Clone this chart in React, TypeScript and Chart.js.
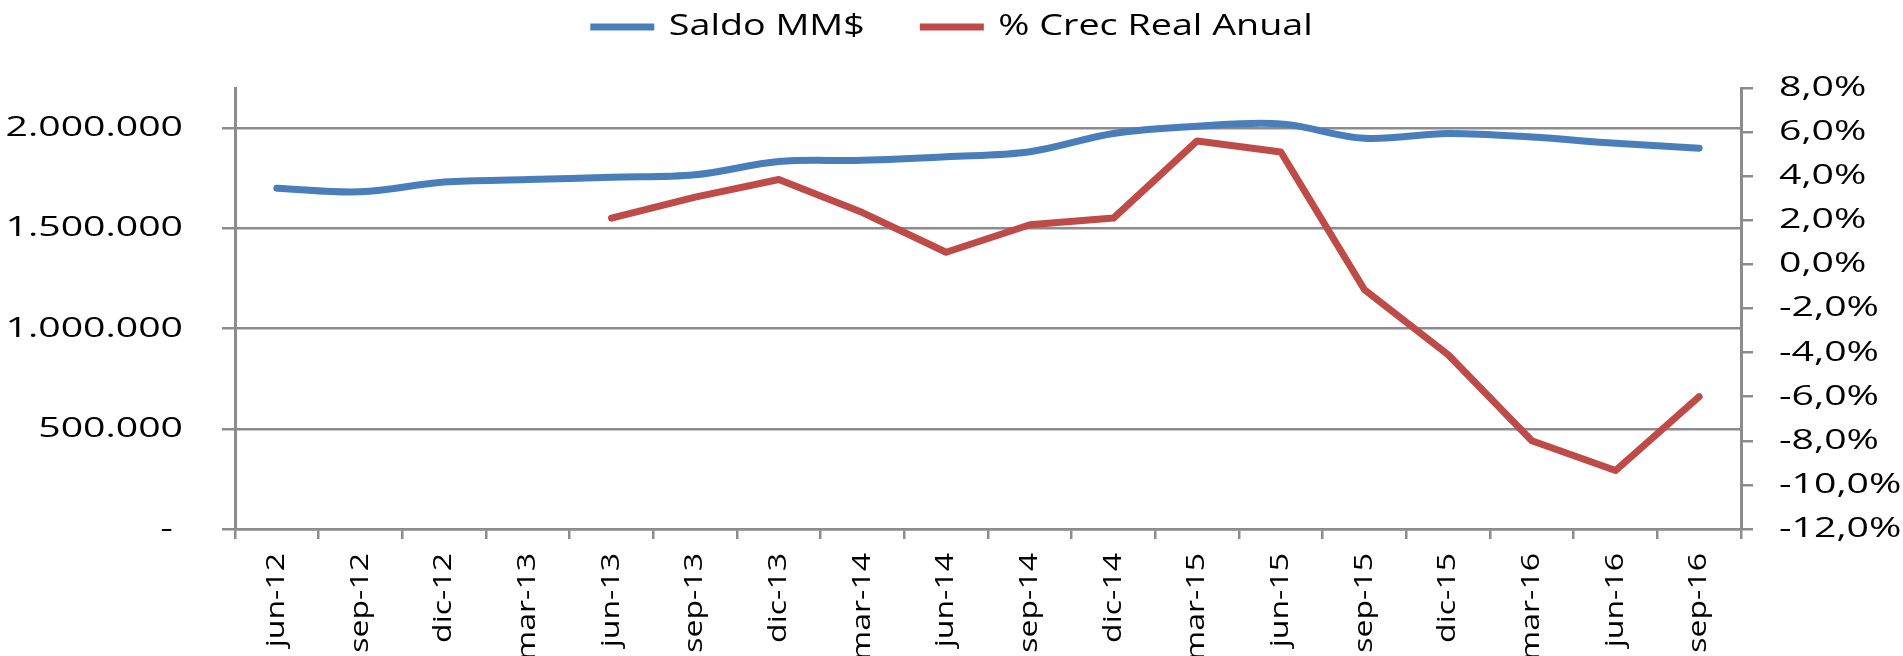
import React, { useEffect, useRef } from 'react';
import { Chart, registerables } from 'chart.js';

Chart.register(...registerables);

// ---- data ----
const categories = [
  'jun-12', 'sep-12', 'dic-12', 'mar-13', 'jun-13', 'sep-13', 'dic-13', 'mar-14', 'jun-14',
  'sep-14', 'dic-14', 'mar-15', 'jun-15', 'sep-15', 'dic-15', 'mar-16', 'jun-16', 'sep-16',
];
const saldo = [
  1700000, 1682000, 1731000, 1743000, 1755000, 1767000, 1833000, 1839000, 1857000,
  1882000, 1973000, 2009000, 2021000, 1949000, 1973000, 1955000, 1924000, 1900000,
];
const crecimiento = [
  null, null, null, null, 2.1, 3.05, 3.85, 2.35, 0.55,
  1.8, 2.1, 5.6, 5.1, -1.15, -4.1, -8.0, -9.35, -6.0,
];
const seriesNames = ['Saldo MM$', '% Crec Real Anual'];
const leftTickValues = [0, 500000, 1000000, 1500000, 2000000];
const leftTickLabels = ['-', '500.000', '1.000.000', '1.500.000', '2.000.000'];
const rightTickValues = [-12, -10, -8, -6, -4, -2, 0, 2, 4, 6, 8];
const rightTickLabels = ['-12,0%', '-10,0%', '-8,0%', '-6,0%', '-4,0%', '-2,0%', '0,0%', '2,0%', '4,0%', '6,0%', '8,0%'];

// ---- style / layout ----
const W = 1903;
const H = 656;
const PLOT_LEFT = 235;
const PLOT_RIGHT = 1741;
const PLOT_TOP = 88;
const PLOT_BOTTOM = 529;
const LEGEND_CENTER_Y = 27;
const LEGEND_FONT = 29;
const Y_FONT = 28;
const X_FONT = 25;
const LEGEND_GAP = 55;
// horizontal stretch of glyphs, per font size (the original uses a wide face)
const STRETCH_BY_SIZE: Record<number, number> = { 29: 1.3, 28: 1.4, 25: 1.28 };
const AXIS_COLOR = '#8c8c8c';
const BLUE = '#4a7ebb';
const RED = '#be4b48';
const LINE_W = 7;
const FONT = "'Open Sans', 'Noto Sans', sans-serif";

function stretchOf(ctx: CanvasRenderingContext2D) {
  const m = /(\d+(?:\.\d+)?)px/.exec(ctx.font);
  const size = m ? Math.round(parseFloat(m[1])) : 0;
  return STRETCH_BY_SIZE[size] || 1.3;
}

function stretchText(ctx: CanvasRenderingContext2D) {
  const c = ctx as any;
  if (c.__stretched) return;
  c.__stretched = true;
  const fill = ctx.fillText.bind(ctx);
  const measure = ctx.measureText.bind(ctx);
  c.fillText = (text: string, x: number, y: number, maxWidth?: number) => {
    const s = stretchOf(ctx);
    ctx.save();
    ctx.translate(x, y);
    ctx.scale(s, 1);
    if (maxWidth === undefined || maxWidth === null) fill(text, 0, 0);
    else fill(text, 0, 0, maxWidth / s);
    ctx.restore();
  };
  c.measureText = (text: string) => {
    const s = stretchOf(ctx);
    const m = measure(text);
    return {
      width: m.width * s,
      actualBoundingBoxAscent: m.actualBoundingBoxAscent,
      actualBoundingBoxDescent: m.actualBoundingBoxDescent,
      actualBoundingBoxLeft: m.actualBoundingBoxLeft * s,
      actualBoundingBoxRight: m.actualBoundingBoxRight * s,
      fontBoundingBoxAscent: m.fontBoundingBoxAscent,
      fontBoundingBoxDescent: m.fontBoundingBoxDescent,
    };
  };
}

const legendPlacement = {
  id: 'legendPlacement',
  beforeLayout(chart: any) {
    const lg = chart.legend;
    if (lg && !lg.__fitPatched) {
      const fit = lg.fit.bind(lg);
      lg.fit = () => {
        fit();
        lg.height = PLOT_TOP;
      };
      lg.__fitPatched = true;
    }
  },
  afterLayout(chart: any) {
    const lg = chart.legend;
    if (lg) {
      lg.top = LEGEND_CENTER_Y - LEGEND_GAP - LEGEND_FONT / 2;
    }
  },
};

export default function App() {
  const canvasRef = useRef<HTMLCanvasElement | null>(null);

  useEffect(() => {
    const canvas = canvasRef.current;
    if (!canvas) return;
    const ctx = canvas.getContext('2d');
    if (ctx) stretchText(ctx);

    const chart = new Chart(canvas, {
      type: 'line',
      data: {
        labels: categories,
        datasets: [
          {
            label: seriesNames[0],
            data: saldo,
            yAxisID: 'y',
            borderColor: BLUE,
            backgroundColor: BLUE,
            borderWidth: LINE_W,
            pointRadius: 0,
            pointHoverRadius: 0,
            tension: 0.35,
            borderCapStyle: 'round',
            borderJoinStyle: 'round',
            fill: false,
          },
          {
            label: seriesNames[1],
            data: crecimiento as any,
            yAxisID: 'y1',
            borderColor: RED,
            backgroundColor: RED,
            borderWidth: LINE_W,
            pointRadius: 0,
            pointHoverRadius: 0,
            tension: 0,
            borderCapStyle: 'round',
            borderJoinStyle: 'round',
            spanGaps: false,
            fill: false,
          },
        ],
      },
      options: {
        animation: false,
        responsive: true,
        maintainAspectRatio: false,
        layout: { padding: 0 },
        font: { family: FONT },
        plugins: {
          tooltip: { enabled: false },
          legend: {
            display: true,
            position: 'top',
            align: 'center',
            labels: {
              usePointStyle: true,
              pointStyle: 'line',
              pointStyleWidth: 64,
              padding: LEGEND_GAP,
              color: '#000',
              font: { family: FONT, size: LEGEND_FONT },
            },
          },
        },
        scales: {
          x: {
            type: 'category',
            offset: true,
            grid: {
              offset: true,
              drawOnChartArea: false,
              drawTicks: true,
              tickLength: 10,
              color: AXIS_COLOR,
              lineWidth: 2.5,
            },
            border: { display: true, color: AXIS_COLOR, width: 2.5 },
            ticks: {
              autoSkip: false,
              maxRotation: 90,
              minRotation: 90,
              padding: 14,
              color: '#000',
              font: { family: FONT, size: X_FONT },
            },
            afterFit: (s: any) => {
              s.height = H - PLOT_BOTTOM;
            },
          },
          y: {
            type: 'linear',
            position: 'left',
            min: 0,
            max: 2200000,
            afterBuildTicks: (s: any) => {
              s.ticks = leftTickValues.map((value) => ({ value }));
            },
            ticks: {
              padding: 39,
              color: '#000',
              font: { family: FONT, size: Y_FONT },
              callback: (v: any) => {
                const i = leftTickValues.indexOf(Number(v));
                const lbl = i >= 0 ? leftTickLabels[i] : String(v);
                return Number(v) === 0 ? lbl + ' ' : lbl;
              },
            },
            grid: {
              color: AXIS_COLOR,
              lineWidth: 2.5,
              tickLength: 13,
              drawTicks: true,
            },
            border: { display: true, color: AXIS_COLOR, width: 3 },
            afterFit: (s: any) => {
              s.width = PLOT_LEFT;
            },
          },
          y1: {
            type: 'linear',
            position: 'right',
            min: -12,
            max: 8,
            afterBuildTicks: (s: any) => {
              s.ticks = rightTickValues.map((value) => ({ value }));
            },
            ticks: {
              padding: 26,
              color: '#000',
              font: { family: FONT, size: Y_FONT },
              callback: (v: any) => {
                const i = rightTickValues.indexOf(Number(v));
                return i >= 0 ? rightTickLabels[i] : String(v);
              },
            },
            grid: {
              drawOnChartArea: false,
              drawTicks: true,
              tickLength: 12,
              color: AXIS_COLOR,
              lineWidth: 2.5,
            },
            border: { display: true, color: AXIS_COLOR, width: 3 },
            afterFit: (s: any) => {
              s.width = W - PLOT_RIGHT;
            },
          },
        },
      } as any,
      plugins: [legendPlacement],
    });

    return () => {
      chart.destroy();
    };
  }, []);

  return (
    <div
      style={{
        position: 'fixed',
        left: 0,
        top: 0,
        width: W + 'px',
        height: H + 'px',
        background: '#ffffff',
      }}
    >
      <canvas ref={canvasRef} />
    </div>
  );
}
